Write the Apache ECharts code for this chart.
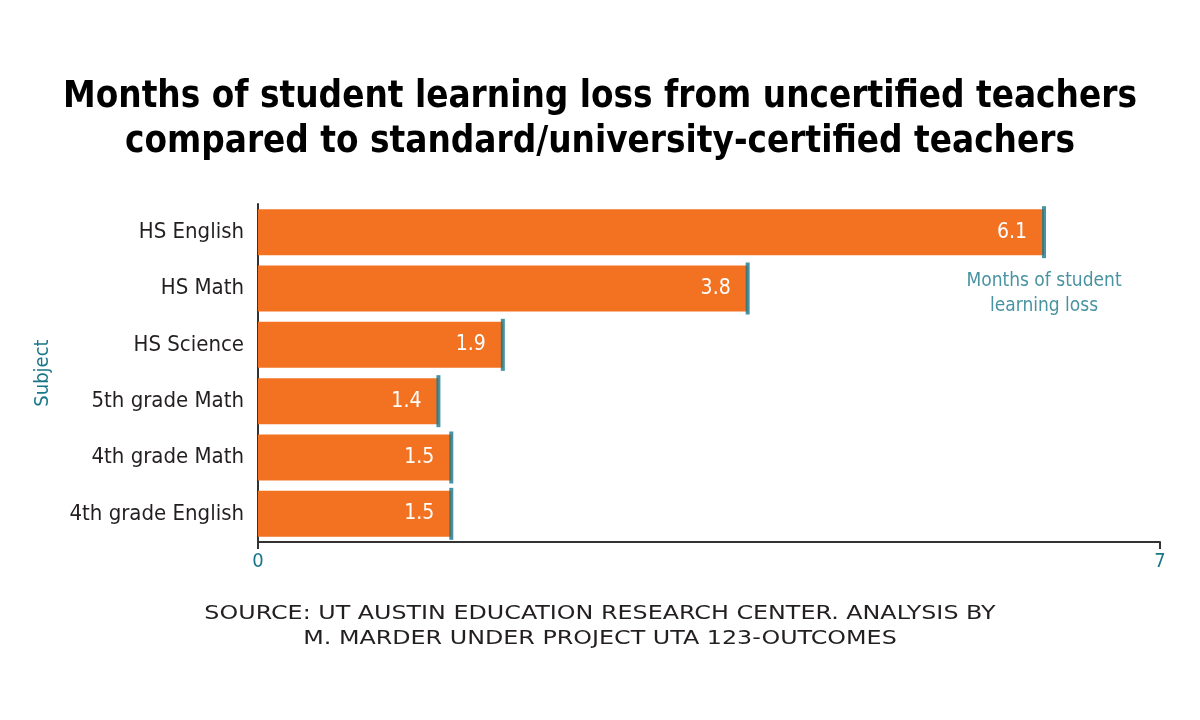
<!DOCTYPE html>
<html><head><meta charset="utf-8">
<script src="https://cdn.jsdelivr.net/npm/echarts@6/dist/echarts.min.js"></script>
<style>html,body{margin:0;padding:0;background:#fff}#c{width:1200px;height:720px}</style>
</head><body><div id="c"></div>
<script>
const categories = ['HS English','HS Math','HS Science','5th grade Math','4th grade Math','4th grade English'];
const values = [6.1, 3.8, 1.9, 1.4, 1.5, 1.5];
const xTicks = [0, 7];
const titleText = 'Months of student learning loss from uncertified teachers\ncompared to standard/university-certified teachers';
const sourceText = 'SOURCE: UT AUSTIN EDUCATION RESEARCH CENTER. ANALYSIS BY\nM. MARDER UNDER PROJECT UTA 123-OUTCOMES';
const noteText = 'Months of student\nlearning loss';

const ORANGE = '#F37222', TEAL = '#1A778A', DARK = '#231F20';
const COND = '"DejaVu Sans Condensed",sans-serif';

const chart = echarts.init(document.getElementById('c'));
chart.setOption({
  animation: false,
  backgroundColor: '#fff',
  title: [
    { text: titleText, left: 'center', top: 70,
      textStyle: { fontFamily: COND, fontWeight: 'bold', fontSize: 36.5, lineHeight: 45, color: '#000' } }
  ],
  graphic: [
    { type: 'text', x: 600, y: 601, scaleX: 1.19,
      style: { text: sourceText, fill: DARK, font: '20px "DejaVu Sans"', lineHeight: 25,
        align: 'center', verticalAlign: 'top', textAlign: 'center', textVerticalAlign: 'top' } }
  ],
  grid: { left: 258, right: 40, top: 204, bottom: 178 },
  xAxis: {
    type: 'value', min: xTicks[0], max: xTicks[1], interval: xTicks[1] - xTicks[0],
    splitLine: { show: false },
    axisLine: { show: true, lineStyle: { color: '#333', width: 2 } },
    axisTick: { show: true, length: 7, lineStyle: { color: '#333', width: 2 } },
    axisLabel: { color: TEAL, fontSize: 20, fontFamily: COND, margin: 10 }
  },
  yAxis: {
    type: 'category', data: categories, inverse: true,
    name: 'Subject', nameLocation: 'middle', nameRotate: 90, nameGap: 205,
    nameTextStyle: { color: TEAL, fontSize: 20, fontFamily: COND },
    axisLine: { show: true, lineStyle: { color: '#333', width: 2 } },
    axisTick: { show: false },
    axisLabel: { color: DARK, fontSize: 22, fontFamily: COND, margin: 14 }
  },
  series: [
    { type: 'bar', data: values, barWidth: 46, itemStyle: { color: ORANGE },
      label: { show: true, position: 'insideRight', distance: 17, color: '#fff',
        fontSize: 21, fontFamily: COND, formatter: p => p.value.toFixed(1) } },
    { type: 'scatter', symbol: 'rect', symbolSize: [4, 52], z: 5,
      itemStyle: { color: TEAL },
      data: values.map((v, i) => {
        const d = { value: [v, categories[i]] };
        if (i === 0) d.label = { show: true, position: 'bottom', distance: 10, formatter: noteText,
          color: TEAL, fontSize: 19, lineHeight: 25, fontFamily: COND, align: 'center' };
        return d;
      }) }
  ]
});
</script></body></html>
